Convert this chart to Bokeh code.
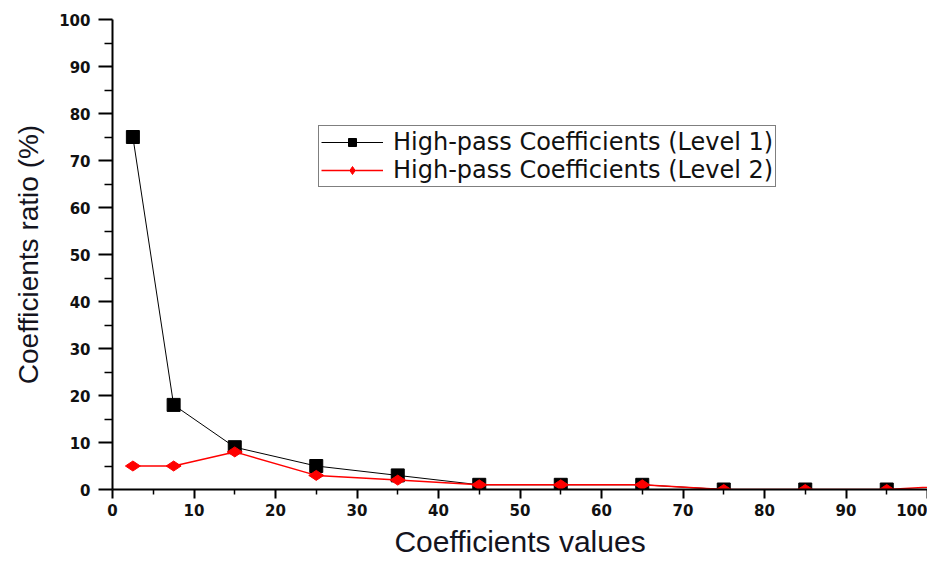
import math
from bokeh.plotting import figure
from bokeh.models import FixedTicker, Legend, LegendItem
from bokeh.embed import file_html
from bokeh.resources import INLINE

# Data
coef_values = [2.5, 7.5, 15, 25, 35, 45, 55, 65, 75, 85, 95]
level1_ratio = [75, 18, 9, 5, 3, 1, 1, 1, 0, 0, 0]
coef_values_l2 = [2.5, 7.5, 15, 25, 35, 45, 55, 65, 75, 85, 95, 105]
level2_ratio = [5, 5, 8, 3, 2, 1, 1, 1, 0, 0, 0, 1]

x_ticks = [0, 10, 20, 30, 40, 50, 60, 70, 80, 90, 100]
x_minor = [5, 15, 25, 35, 45, 55, 65, 75, 85, 95]
y_ticks = [0, 10, 20, 30, 40, 50, 60, 70, 80, 90, 100]
y_minor = [5, 15, 25, 35, 45, 55, 65, 75, 85, 95]

label_l1 = "High-pass Coefficients (Level 1)"
label_l2 = "High-pass Coefficients (Level 2)"

p = figure(width=927, height=561, x_range=(0, 100), y_range=(0, 100),
           output_backend="svg", toolbar_location=None,
           min_border_left=112, min_border_right=0,
           min_border_top=19, min_border_bottom=72)
p.grid.visible = False
p.outline_line_color = None
p.background_fill_color = "white"
p.border_fill_color = "white"

l1 = p.line(coef_values, level1_ratio, line_color="black", line_width=1)
s1 = p.scatter(coef_values, level1_ratio, marker="square", size=13,
               fill_color="black", line_color="black")
l2 = p.line(coef_values_l2, level2_ratio, line_color="#ff0000", line_width=1.5)
s2 = p.scatter(coef_values, level2_ratio, marker="diamond", size=15, angle=math.pi / 2,
               fill_color="#ff0000", line_color="#ff0000")

legend = Legend(items=[LegendItem(label=label_l1, renderers=[l1, s1]),
                       LegendItem(label=label_l2, renderers=[l2, s2])],
                location=(206, 302))
legend.border_line_color = "black"
legend.border_line_width = 1
legend.background_fill_color = "white"
legend.background_fill_alpha = 1
legend.label_text_font = "DejaVu Sans"
legend.label_text_font_size = "24px"
legend.label_text_color = "#111111"
legend.glyph_width = 62
legend.glyph_height = 20
legend.label_height = 20
legend.spacing = 0
legend.padding = 2
legend.margin = 0
legend.label_standoff = 10
p.add_layout(legend)

for ax in (p.xaxis, p.yaxis):
    ax.axis_line_width = 2
    ax.axis_line_color = "black"
    ax.major_tick_line_width = 2
    ax.minor_tick_line_width = 1.5
    ax.major_tick_in = 0
    ax.minor_tick_in = 0
    ax.major_label_text_font = "DejaVu Sans"
    ax.major_label_text_font_style = "bold"
    ax.major_label_text_font_size = "15px"
    ax.major_label_text_color = "#111111"
    ax.axis_label_text_font = "Liberation Sans"
    ax.axis_label_text_font_style = "normal"
    ax.axis_label_text_color = "#14141e"

p.xaxis.ticker = FixedTicker(ticks=x_ticks, minor_ticks=x_minor)
p.yaxis.ticker = FixedTicker(ticks=y_ticks, minor_ticks=y_minor)

p.xaxis.major_tick_out = 9
p.xaxis.minor_tick_out = 5
p.xaxis.major_label_standoff = 5
p.xaxis.axis_label = "Coefficients values"
p.xaxis.axis_label_text_font_size = "30px"
p.xaxis.axis_label_standoff = 6

p.yaxis.major_tick_out = 14
p.yaxis.minor_tick_out = 8
p.yaxis.major_label_standoff = 8
p.yaxis.axis_label = "Coefficients ratio (%)"
p.yaxis.axis_label_text_font_size = "28px"
p.yaxis.axis_label_standoff = 12

open("out.html", "w").write(file_html(p, INLINE))
